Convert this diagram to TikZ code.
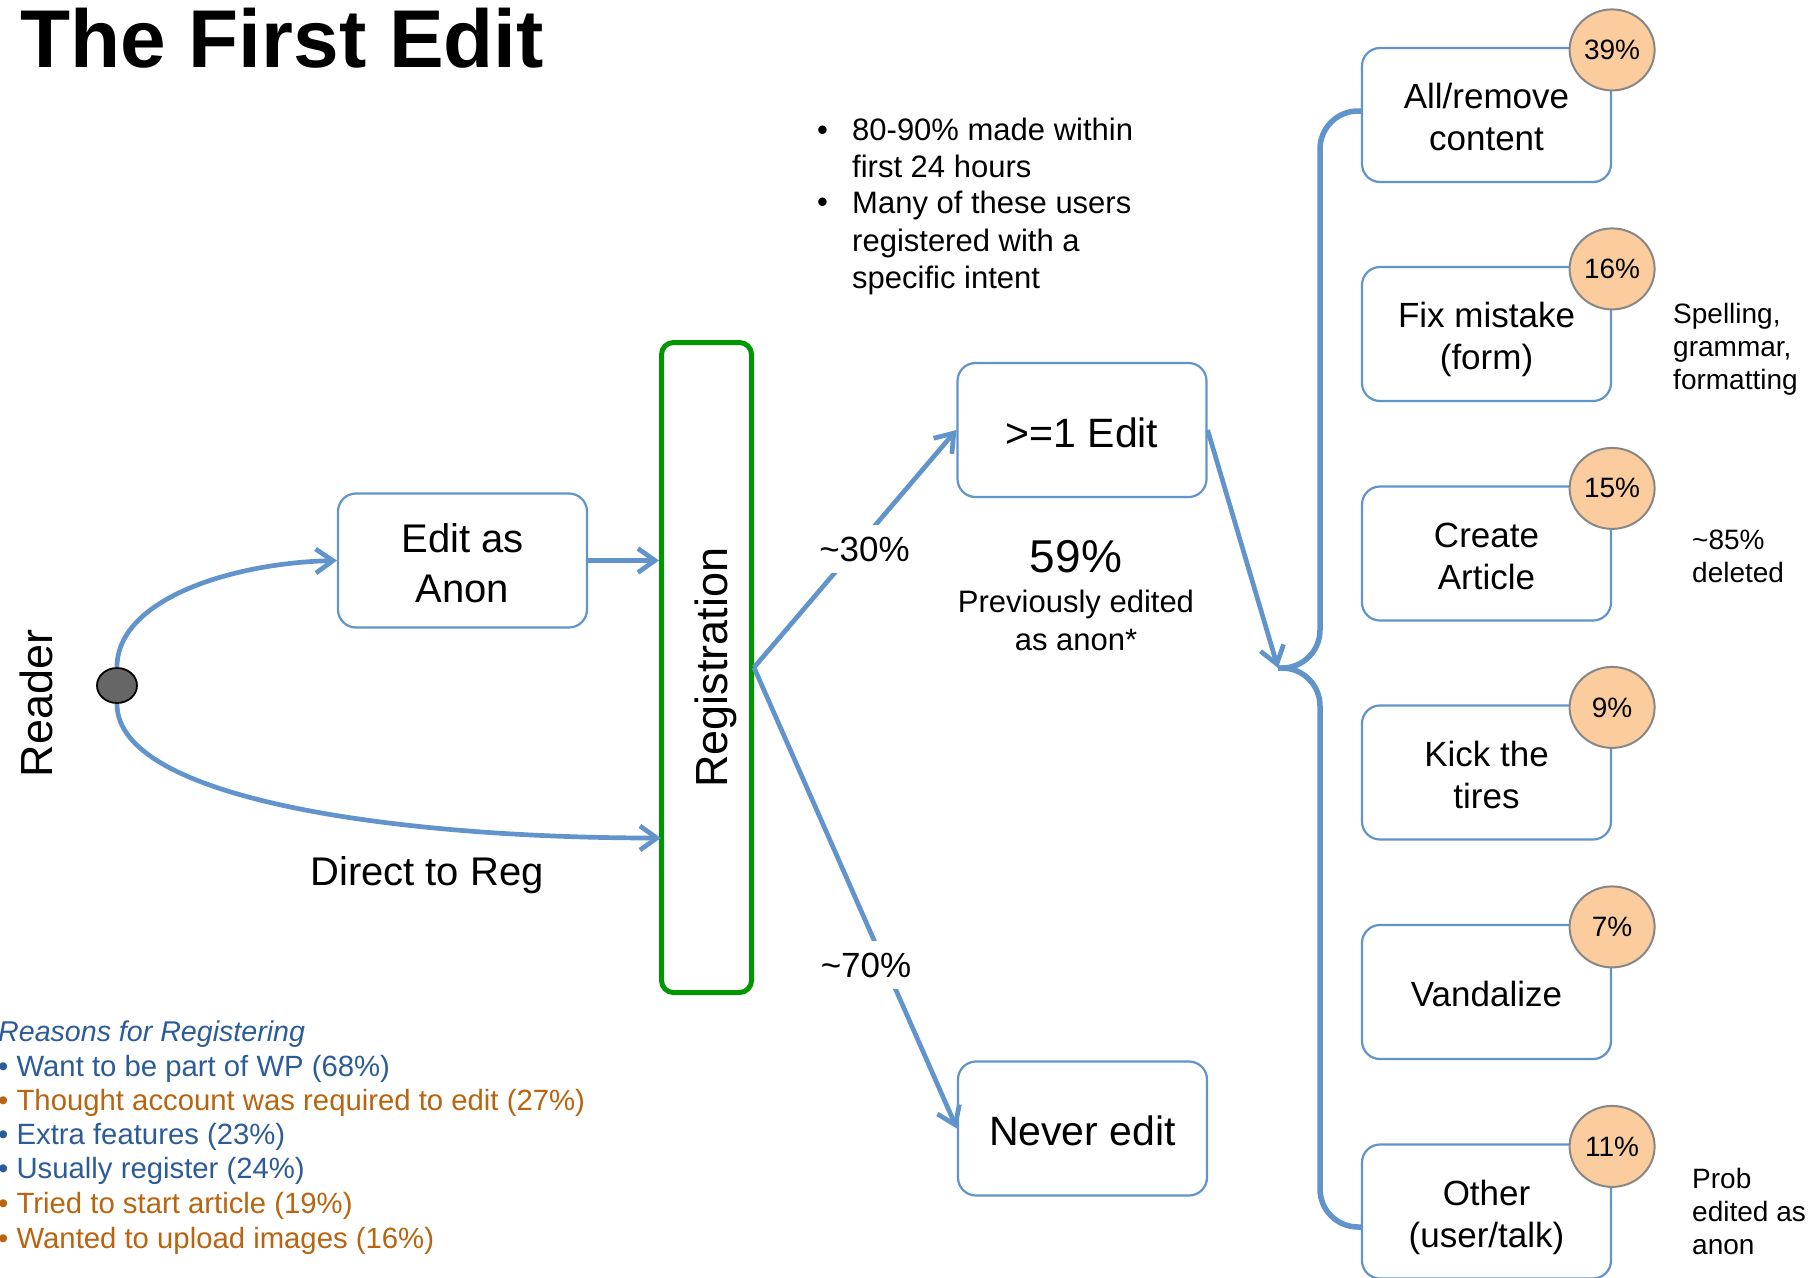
\documentclass[tikz,border=0pt]{standalone}
\usepackage{fontspec}
\setmainfont{Liberation Sans}
\usetikzlibrary{arrows.meta,shapes.geometric}
\definecolor{cblue}{RGB}{98,148,204}
\definecolor{regreen}{RGB}{0,150,0}
\definecolor{peach}{RGB}{250,204,158}
\definecolor{cgray}{RGB}{135,135,135}
\definecolor{rblue}{RGB}{44,92,152}
\definecolor{rorange}{RGB}{185,100,15}
\definecolor{dotgray}{RGB}{102,102,102}
\newcommand\bt{\rule{0pt}{1.05em}}
\newcommand\bb{\rule[-0.2em]{0pt}{0.2em}}
\newcommand\fsA{\fontsize{40}{50}\selectfont}
\newcommand\fsB{\fontsize{35}{42}\selectfont}
\newcommand\fsC{\fontsize{41}{49}\selectfont}
\newcommand\fsN{\fontsize{28}{34}\selectfont}
\newcommand\fsT{\fontsize{31}{36}\selectfont}
\newcommand\fsR{\fontsize{29.3}{34}\selectfont}
\begin{document}
\begin{tikzpicture}[x=1pt,y=-1pt,
  box/.style={draw=cblue, line width=2.2pt, rounded corners=18pt, minimum width=249pt, minimum height=134pt, align=center, inner sep=0pt, fill=white},
  pct/.style={ellipse, draw=cgray, line width=2pt, fill=peach, minimum width=85pt, minimum height=81pt, inner sep=0pt, yshift=-3pt, font=\fontsize{28}{30}\selectfont},
  arr/.style={draw=cblue, line width=4.7pt, -{Straight Barb[length=17pt,width=24pt]}},
  brace/.style={draw=cblue, line width=5.5pt, rounded corners=38pt},
  note/.style={anchor=base west, inner sep=0pt, font=\fsN},
  txt/.style={anchor=base, inner sep=0pt},
  lbl/.style={anchor=base, fill=white, inner xsep=4pt, inner ysep=12pt, font=\fontsize{35}{40}\selectfont},
  reason/.style={anchor=base west, inner sep=0pt, font=\fsR}
]
\useasboundingbox (0,0) rectangle (1820,1277);
\fill[white] (0,0) rectangle (1820,1277);

% title
\node[anchor=base west, inner sep=0pt, font=\fontsize{82}{90}\selectfont\bfseries] (title) at (20,67) {The First Edit};

% reader
\node[rotate=90, anchor=base, inner sep=0pt, font=\fontsize{45}{50}\selectfont] (reader) at (52,703.5) {Reader};
\node[ellipse, draw=black, line width=1.8pt, fill=dotgray, minimum width=40pt, minimum height=35pt, inner sep=0pt] (dot) at (117,685.5) {};

% boxes
\node[box, font=\fsA] (anon) at (462.5,560.5) {\bt Edit as\\Anon\bb};
\node[draw=regreen, line width=5pt, rounded corners=12pt, minimum width=90pt, minimum height=650pt, inner sep=0pt] (reg) at (706.5,667.5) {};
\node[rotate=90, anchor=base, inner sep=0pt, font=\fontsize{45}{50}\selectfont] (regtxt) at (727,667.5) {Registration};
\node[box, font=\fsC] (edit1) at (1082,430) {\bt >=1 Edit\bb};
\node[box, font=\fsC] (never) at (1082.5,1128.5) {\bt Never edit\bb};

\node[box, font=\fsB] (b1) at (1486.5,115) {\bt All/remove\\content\bb};
\node[box, font=\fsB] (b2) at (1486.5,334) {\bt Fix mistake\\(form)\bb};
\node[box, font=\fsB] (b3) at (1486.5,553.5) {\bt Create\\Article\bb};
\node[box, font=\fsB] (b4) at (1486.5,772.5) {\bt Kick the\\tires\bb};
\node[box, font=\fsB] (b5) at (1486.5,992) {\bt Vandalize\bb};
\node[box, font=\fsB] (b6) at (1486.5,1211.5) {\bt Other\\(user/talk)\bb};

\node[pct] (p1) at (b1.north east) {39\%};
\node[pct] (p2) at (b2.north east) {16\%};
\node[pct] (p3) at (b3.north east) {15\%};
\node[pct] (p4) at (b4.north east) {9\%};
\node[pct] (p5) at (b5.north east) {7\%};
\node[pct] (p6) at (b6.north east) {11\%};

% connectors
\coordinate (regin) at (661,838);
\draw[arr] (dot.north) .. controls (117,600) and (230,563) .. (anon.west);
\draw[arr] (dot.south) .. controls (117,800) and (400,838) .. (regin);
\draw[arr] (anon.east) -- (anon.east -| reg.west);
\draw[arr] (reg.east) -- (edit1.west);
\draw[arr] (reg.east) -- (never.west);

\coordinate (tip) at (1278,668);
\coordinate (spine) at (1320,668);
\coordinate (b1in) at (1362,111);
\coordinate (b6in) at (1362,1227);
\draw[arr] (edit1.east) -- (tip);
\draw[brace] (b1in) -| (spine) -- (tip);
\draw[brace] (tip) -- (spine) |- (b6in);

% labels on connectors
\node[lbl] (l30) at (864.5,561) {\textasciitilde30\%};
\node[lbl] (l70) at (866,977) {\textasciitilde70\%};
\node[txt, font=\fsA] (direct) at (427,885) {Direct to Reg};

% 59%
\node[txt, font=\fontsize{46}{50}\selectfont] (p59) at (1076,572) {59\%};
\node[txt, font=\fontsize{31}{36}\selectfont] (prev1) at (1076,612) {Previously edited};
\node[txt, font=\fontsize{31}{36}\selectfont] (prev2) at (1076,650) {as anon*};

% top bullets
\node[anchor=base west, inner sep=0pt, font=\fsT] (bul1) at (817,140) {•};
\node[anchor=base west, inner sep=0pt, font=\fsT] (bul2) at (817,212) {•};
\node[anchor=base west, inner sep=0pt, font=\fsT] (t1) at (852,140) {80-90\% made within};
\node[anchor=base west, inner sep=0pt, font=\fsT] (t2) at (852,177) {first 24 hours};
\node[anchor=base west, inner sep=0pt, font=\fsT] (t3) at (852,213) {Many of these users};
\node[anchor=base west, inner sep=0pt, font=\fsT] (t4) at (852,251) {registered with a};
\node[anchor=base west, inner sep=0pt, font=\fsT] (t5) at (852,288) {specific intent};

% side notes
\node[note] (n1) at (1673,323) {Spelling,};
\node[note] (n2) at (1673,356) {grammar,};
\node[note] (n3) at (1673,389) {formatting};
\node[note] (n4) at (1692,549) {\textasciitilde85\%};
\node[note] (n5) at (1692,582) {deleted};
\node[note] (n6) at (1692,1188) {Prob};
\node[note] (n7) at (1692,1221) {edited as};
\node[note] (n8) at (1692,1254) {anon};

% reasons
\node[anchor=base west, inner sep=0pt, font=\fontsize{28.6}{34}\selectfont\itshape, text=rblue] (rh) at (-2,1041) {Reasons for Registering};
\node[reason, text=rblue] (r1) at (-2,1076) {• Want to be part of WP (68\%)};
\node[reason, text=rorange] (r2) at (-2,1110) {• Thought account was required to edit (27\%)};
\node[reason, text=rblue] (r3) at (-2,1144.5) {• Extra features (23\%)};
\node[reason, text=rblue] (r4) at (-2,1178.5) {• Usually register (24\%)};
\node[reason, text=rorange] (r5) at (-2,1213.5) {• Tried to start article (19\%)};
\node[reason, text=rorange] (r6) at (-2,1248.5) {• Wanted to upload images (16\%)};
\end{tikzpicture}
\end{document}
